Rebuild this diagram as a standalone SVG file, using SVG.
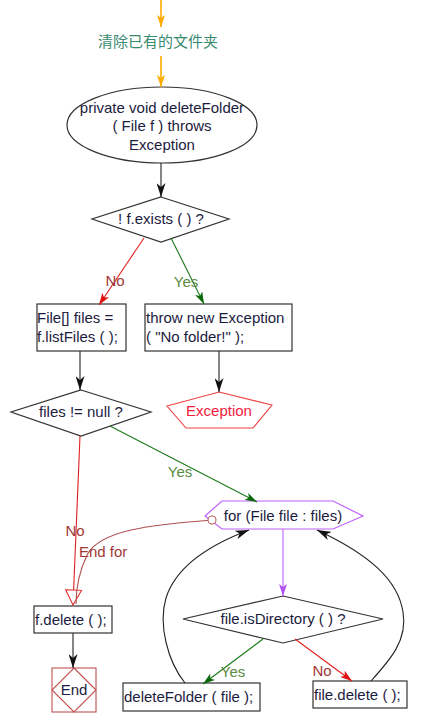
<svg xmlns="http://www.w3.org/2000/svg" width="438" height="717" viewBox="0 0 438 717">
<defs>
<style>
text{font-family:"Liberation Sans",Arial,"Noto Sans CJK SC",sans-serif;font-size:15px;fill:#1c1c40}
.n{fill:#fff;stroke:#333;stroke-width:1.2}
.c{fill:none;stroke-width:1.1}
.k{stroke:#222}
.g{stroke:#1a7a1a}
.r{stroke:#e02020}
.p{stroke:#c060ff}
.o{stroke:#ffaa00;stroke-width:1.6}
.br{stroke:#b05050}
.lno{fill:#a03838}
.lyes{fill:#5a8a40}
</style>
<marker id="ak" viewBox="0 0 14 9" refX="14" refY="4.5" markerWidth="14" markerHeight="9" markerUnits="userSpaceOnUse" orient="auto"><path d="M0,0 L14,4.5 L0,9 L4,4.5 Z" fill="#111"/></marker>
<marker id="ag" viewBox="0 0 12 8" refX="12" refY="4" markerWidth="12" markerHeight="8" markerUnits="userSpaceOnUse" orient="auto"><path d="M0,0 L12,4 L0,8 L3,4 Z" fill="#0a6a0a"/></marker>
<marker id="ar" viewBox="0 0 12 8" refX="12" refY="4" markerWidth="12" markerHeight="8" markerUnits="userSpaceOnUse" orient="auto"><path d="M0,0 L12,4 L0,8 L3,4 Z" fill="#e01010"/></marker>
<marker id="ap" viewBox="0 0 12 8" refX="12" refY="4" markerWidth="12" markerHeight="8" markerUnits="userSpaceOnUse" orient="auto"><path d="M0,0 L12,4 L0,8 L3,4 Z" fill="#b050f0"/></marker>
<marker id="ao" viewBox="0 0 12 8" refX="12" refY="4" markerWidth="12" markerHeight="8" markerUnits="userSpaceOnUse" orient="auto"><path d="M0,0 L12,4 L0,8 L3,4 Z" fill="#ffaa00"/></marker>
<marker id="aopen" viewBox="0 0 18 18" refX="16" refY="9" markerWidth="18" markerHeight="18" markerUnits="userSpaceOnUse" orient="auto"><path d="M1,1 L16,9 L1,17 Z" fill="#fff" stroke="#e02020" stroke-width="1"/></marker>
<marker id="circ" viewBox="0 0 10 10" refX="5" refY="5" markerWidth="10" markerHeight="10" markerUnits="userSpaceOnUse" orient="auto"><circle cx="5" cy="5" r="4" fill="#fff" stroke="#b05050" stroke-width="1"/></marker>
</defs>

<g id="n-comment">
<text x="158" y="47" text-anchor="middle" style="fill:#3a8a70">清除已有的文件夹</text>
</g>

<g id="n-start">
<ellipse class="n" cx="162" cy="125" rx="95" ry="38"/>
<text x="162" y="113" text-anchor="middle">private void deleteFolder</text>
<text x="162" y="131" text-anchor="middle">( File f ) throws</text>
<text x="162" y="150" text-anchor="middle">Exception</text>
</g>

<g id="n-exists">
<polygon class="n" points="161,197 229,219 161,242 92,219"/>
<text x="161" y="224" text-anchor="middle">! f.exists ( ) ?</text>
</g>

<g id="n-listfiles">
<rect class="n" x="37" y="304" width="89" height="47"/>
<text x="37" y="323">File[] files =</text>
<text x="37" y="342">f.listFiles ( );</text>
</g>

<g id="n-throw">
<rect class="n" x="145" y="304" width="147" height="47"/>
<text x="146" y="323">throw new Exception</text>
<text x="146" y="342">( "No folder!" );</text>
</g>

<g id="n-exception">
<polygon points="219,392 272,405 253,428 186,428 167,406" fill="#fff" stroke="#f04040" stroke-width="1.1"/>
<text x="219" y="416" text-anchor="middle" style="fill:#f02040">Exception</text>
</g>

<g id="n-null">
<polygon class="n" points="81,390 151,412 81,436 11,412"/>
<text x="81" y="417" text-anchor="middle">files != null ?</text>
</g>

<g id="n-for">
<polygon points="222,501 333,501 363,516 333,529 222,529 205,516" fill="#fff" stroke="#c060ff" stroke-width="1.2"/>
<text x="283" y="521" text-anchor="middle">for (File file : files)</text>
</g>

<g id="n-fdelete">
<rect class="n" x="34" y="606" width="78" height="27"/>
<text x="35" y="625">f.delete ( );</text>
</g>

<g id="n-end">
<rect x="52" y="668" width="44" height="44" fill="#fff" stroke="#c05050" stroke-width="1.1"/>
<polygon points="74,668 96,690 74,712 52,690" fill="none" stroke="#c05050" stroke-width="1.1"/>
<text x="74" y="695" text-anchor="middle">End</text>
</g>

<g id="n-isdir">
<polygon class="n" points="283,596 383,619 283,643 183,619"/>
<text x="283" y="624" text-anchor="middle">file.isDirectory ( ) ?</text>
</g>

<g id="n-deletefolder">
<rect class="n" x="123" y="683" width="137" height="28"/>
<text x="124" y="702">deleteFolder ( file );</text>
</g>

<g id="n-filedelete">
<rect class="n" x="313" y="681" width="94" height="27"/>
<text x="314" y="700">file.delete ( );</text>
</g>

<g id="connectors">
<path class="c o" d="M161,0 L161,27" marker-end="url(#ao)"/>
<path class="c o" d="M161,56 L161,87" marker-end="url(#ao)"/>
<path class="c k" d="M161,163 L161,197" marker-end="url(#ak)"/>
<path class="c r" d="M144,238 L99,305" marker-end="url(#ar)"/>
<path class="c g" d="M171,238 L204,304" marker-end="url(#ag)"/>
<path class="c k" d="M80,351 L80,390" marker-end="url(#ak)"/>
<path class="c k" d="M219,351 L219,392" marker-end="url(#ak)"/>
<path class="c g" d="M110,426 L257,502" marker-end="url(#ag)"/>
<path class="c r" d="M80,436 L73,605" marker-end="url(#aopen)"/>
<path class="c br" d="M212,520 C150,525 100,530 87,555 C80,570 76,588 76,604" marker-start="url(#circ)"/>
<path class="c k" d="M73,633 L73,668" marker-end="url(#ak)"/>
<path class="c p" d="M283,529 L283,596" marker-end="url(#ap)"/>
<path class="c g" d="M263,639 L203,684" marker-end="url(#ag)"/>
<path class="c r" d="M295,639 L352,681" marker-end="url(#ar)"/>
<path class="c k" d="M185,683 C168,662 158,625 166,598 C176,566 212,544 249,530" marker-end="url(#ak)"/>
<path class="c k" d="M371,681 C390,660 408,640 403,612 C398,580 370,555 317,530" marker-end="url(#ak)"/>
<text x="115" y="286" class="lno" text-anchor="middle">No</text>
<text x="186" y="287" class="lyes" text-anchor="middle">Yes</text>
<text x="180" y="477" class="lyes" text-anchor="middle">Yes</text>
<text x="75" y="536" class="lno" text-anchor="middle">No</text>
<text x="79" y="557" class="lno">End for</text>
<text x="233" y="677" class="lyes" text-anchor="middle">Yes</text>
<text x="322" y="676" class="lno" text-anchor="middle">No</text>
</g>
</svg>
